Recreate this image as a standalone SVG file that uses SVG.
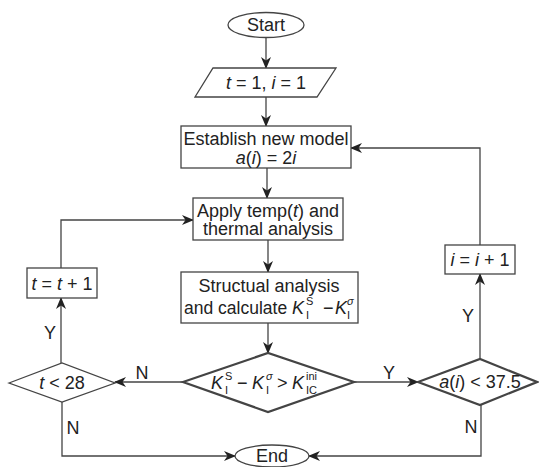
<svg xmlns="http://www.w3.org/2000/svg" width="539" height="467" viewBox="0 0 539 467">
<defs>
<marker id="ah" viewBox="0 0 12 10" markerWidth="12" markerHeight="10" refX="11" refY="5" orient="auto" markerUnits="userSpaceOnUse">
<path d="M0,0 L12,5 L0,10 L3.5,5 z" fill="#222"/>
</marker>
<style>
.sh{fill:#fff;stroke:#444;stroke-width:1.3}
.thick{fill:#fff;stroke:#444;stroke-width:2.2}
.t{font-family:"Liberation Sans",Arial,sans-serif;font-size:18px;fill:#222;text-anchor:middle}
.ts{font-family:"Liberation Sans",Arial,sans-serif;font-size:11px;fill:#222}
.c{fill:none;stroke:#444;stroke-width:1.3}
.ca{fill:none;stroke:#444;stroke-width:1.3;marker-end:url(#ah)}
.i{font-style:italic}
</style>
</defs>
<rect width="539" height="467" fill="#fff"/>

<g id="connectors">
<line class="ca" x1="266" y1="37.5" x2="266" y2="68"/>
<line class="ca" x1="266" y1="97" x2="266" y2="126"/>
<line class="ca" x1="267" y1="168" x2="267" y2="198"/>
<line class="ca" x1="268" y1="240" x2="268" y2="272"/>
<line class="ca" x1="268" y1="323" x2="268" y2="353"/>
<line class="ca" x1="183" y1="382" x2="115" y2="382"/>
<line class="ca" x1="61" y1="363" x2="61" y2="298"/>
<polyline class="ca" points="61,268 61,220 193,220"/>
<polyline class="ca" points="62,402 62,456 235,456"/>
<line class="ca" x1="354" y1="382" x2="418" y2="382"/>
<line class="ca" x1="480" y1="359" x2="480" y2="274"/>
<polyline class="ca" points="480,245 480,148 351,148"/>
<polyline class="ca" points="481,405 481,456 309,456"/>
<text class="t" x="142" y="379">N</text>
<text class="t" x="389" y="379">Y</text>
<text class="t" x="50" y="339">Y</text>
<text class="t" x="73" y="434">N</text>
<text class="t" x="468" y="322">Y</text>
<text class="t" x="471" y="433">N</text>
</g>

<g id="start">
<ellipse class="sh" cx="266" cy="25" rx="38" ry="12.5"/>
<text class="t" x="266" y="31">Start</text>
</g>

<g id="init">
<polygon class="sh" points="213,68 336,68 317,97 195,97"/>
<text class="t" x="266" y="89"><tspan class="i">t</tspan> = 1, <tspan class="i">i</tspan> = 1</text>
</g>

<g id="establish">
<rect class="sh" x="181" y="126" width="170" height="42"/>
<text class="t" x="266" y="145">Establish new model</text>
<text class="t" x="266" y="164"><tspan class="i">a</tspan>(<tspan class="i">i</tspan>) = 2<tspan class="i">i</tspan></text>
</g>

<g id="apply">
<rect class="sh" x="193" y="198" width="150" height="42"/>
<text class="t" x="268" y="217">Apply temp(<tspan class="i">t</tspan>) and</text>
<text class="t" x="268" y="235">thermal analysis</text>
</g>

<g id="structural">
<rect class="sh" x="181" y="272" width="177" height="51"/>
<text class="t" x="269" y="292">Structual analysis</text>
<text class="t" x="184" y="314" style="text-anchor:start;font-size:17.5px">and calculate</text>
<text class="t i" x="292" y="314" style="text-anchor:start">K</text>
<text class="ts" x="306" y="305">S</text>
<text class="ts" x="306" y="319">I</text>
<text class="t" x="323" y="314" style="text-anchor:start">−</text>
<text class="t i" x="335" y="314" style="text-anchor:start">K</text>
<text class="ts i" x="347" y="305">σ</text>
<text class="ts" x="347" y="319">I</text>
</g>

<g id="check">
<polygon class="thick" points="183,382 268,353 354,382 268,412"/>
<text class="t i" x="211" y="389" style="text-anchor:start">K</text>
<text class="ts" x="225" y="380">S</text>
<text class="ts" x="225" y="394">I</text>
<text class="t" x="237" y="389" style="text-anchor:start">−</text>
<text class="t i" x="252" y="389" style="text-anchor:start">K</text>
<text class="ts i" x="266" y="380">σ</text>
<text class="ts" x="266" y="394">I</text>
<text class="t" x="277" y="389" style="text-anchor:start">&gt;</text>
<text class="t i" x="292" y="389" style="text-anchor:start">K</text>
<text class="ts" x="306" y="380">ini</text>
<text class="ts" x="306" y="394">IC</text>
</g>

<g id="tlt28">
<polygon class="sh" points="9,383 62,363 115,383 62,402"/>
<text class="t" x="62" y="389"><tspan class="i">t</tspan> &lt; 28</text>
</g>

<g id="tinc">
<rect class="sh" x="27" y="268" width="70" height="30"/>
<text class="t" x="62" y="290"><tspan class="i">t</tspan> = <tspan class="i">t</tspan> + 1</text>
</g>

<g id="alt">
<polygon class="thick" points="418,382 480,359 537,382 480,405"/>
<text class="t" x="480" y="388"><tspan class="i">a</tspan>(<tspan class="i">i</tspan>) &lt; 37.5</text>
</g>

<g id="iinc">
<rect class="sh" x="445" y="245" width="70" height="29"/>
<text class="t" x="480" y="266"><tspan class="i">i</tspan> = <tspan class="i">i</tspan> + 1</text>
</g>

<g id="end">
<ellipse class="sh" cx="272" cy="456" rx="37" ry="11"/>
<text class="t" x="272" y="462">End</text>
</g>
</svg>
